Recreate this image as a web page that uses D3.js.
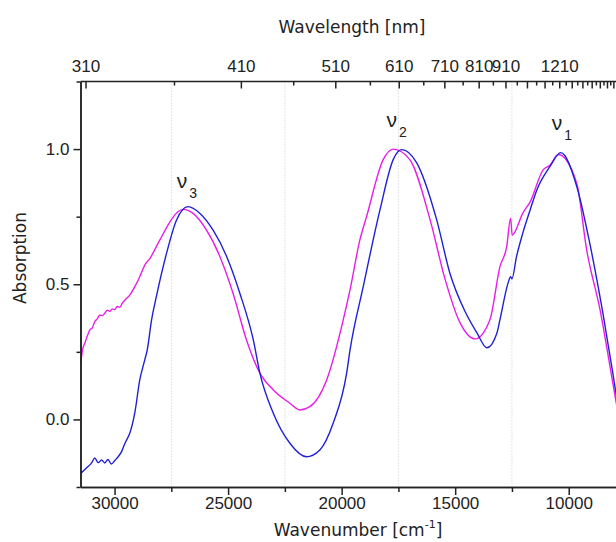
<!DOCTYPE html>
<html>
<head>
<meta charset="utf-8">
<script src="https://cdn.jsdelivr.net/npm/d3@7"></script>
<style>
  body { margin: 0; background: #fff; }
  svg { display: block; }
</style>
</head>
<body>
<div id="chart"></div>
<script>
// absorption spectra
const magentaWn = [31490, 31400, 31310, 31200, 31090, 30980, 30870, 30760, 30650, 30540, 30430, 30320, 30210, 30100, 29990, 29880, 29770, 29650, 29540, 29330, 29110, 28890, 28670, 28440, 28010, 27560, 27210, 26980, 26540, 25950, 25360, 24780, 24190, 23600, 23010, 22280, 21840, 21400, 20660, 19930, 19630, 19200, 18900, 18170, 17730, 17000, 16110, 15450, 14800, 14130, 13470, 13030, 12730, 12560, 12490, 12020, 11700, 11120, 10830, 10460, 9650, 9210, 8620, 8060, 7740];
const magentaAbs = [0.208, 0.262, 0.282, 0.309, 0.331, 0.339, 0.362, 0.372, 0.386, 0.384, 0.393, 0.404, 0.400, 0.409, 0.406, 0.418, 0.415, 0.431, 0.442, 0.460, 0.491, 0.528, 0.571, 0.596, 0.663, 0.731, 0.768, 0.777, 0.762, 0.700, 0.602, 0.466, 0.294, 0.171, 0.109, 0.060, 0.035, 0.047, 0.146, 0.368, 0.480, 0.663, 0.751, 0.961, 1.000, 0.961, 0.740, 0.520, 0.360, 0.298, 0.369, 0.565, 0.640, 0.744, 0.682, 0.763, 0.805, 0.924, 0.940, 0.980, 0.874, 0.627, 0.405, 0.135, -0.020];

const blueWn = [31490, 31240, 31010, 30870, 30720, 30575, 30430, 30290, 30140, 29990, 29840, 29690, 29540, 29470, 29330, 29110, 28890, 28670, 28560, 28370, 28160, 27710, 27270, 26760, 26240, 25660, 25060, 24480, 23890, 23600, 23010, 22280, 21545, 20960, 20375, 19780, 19630, 19050, 18310, 17730, 17360, 16700, 15820, 15230, 14570, 14040, 13610, 13160, 13030, 12670, 12560, 12500, 12300, 12020, 11700, 11400, 10830, 10350, 9640, 9070, 8490, 8060, 7740];
const blueAbs = [-0.200, -0.180, -0.161, -0.143, -0.160, -0.150, -0.161, -0.148, -0.165, -0.152, -0.138, -0.119, -0.088, -0.076, -0.051, 0.024, 0.146, 0.220, 0.257, 0.368, 0.454, 0.615, 0.738, 0.787, 0.762, 0.700, 0.602, 0.466, 0.294, 0.171, 0.023, -0.088, -0.138, -0.113, -0.014, 0.171, 0.257, 0.491, 0.776, 0.961, 0.998, 0.950, 0.740, 0.540, 0.400, 0.320, 0.265, 0.320, 0.368, 0.505, 0.528, 0.520, 0.602, 0.690, 0.775, 0.850, 0.935, 0.987, 0.860, 0.650, 0.390, 0.172, 0.000];

// axes
const bottomMajor = [30000, 25000, 20000, 15000, 10000];
const bottomMinor = [27500, 22500, 17500, 12500, 7500];
const gridWn = [27500, 22500, 17500, 12500];
const yMajor = [0, 0.5, 1.0];
const yMinor = [-0.25, 0.25, 0.75, 1.25];
const topLabels = [310, 410, 510, 610, 710, 810, 910, 1210];
const topTicks = d3.range(310, 2050, 50);

// peak annotations
const peakNames = ["3", "2", "1"];
const peakWn = [27260, 18020, 10750];
const peakAbs = [0.856, 1.083, 1.071];

const width = 616, height = 542;
const tickFont = "'Liberation Sans', Arial, sans-serif";
const titleFont = "'DejaVu Sans', Verdana, sans-serif";
const ink = "#222";

const svg = d3.select("#chart")
    .append("svg")
    .attr("width", width)
    .attr("height", height);

const x = d3.scaleLinear().domain([31500, 7500]).range([80.5, 625.5]);
const y = d3.scaleLinear().domain([-0.25, 1.25]).range([487, 81.5]);

// top axis: wavelength mapped onto the wavenumber scale
const nmToWn = nm => 8.6948e6 / nm + 3209;

svg.append("clipPath").attr("id", "plot")
    .append("rect")
    .attr("x", x.range()[0]).attr("y", y.range()[1])
    .attr("width", x.range()[1] - x.range()[0])
    .attr("height", y.range()[0] - y.range()[1]);

// dotted vertical grid
svg.append("g")
    .selectAll("line")
    .data(gridWn)
    .enter().append("line")
    .attr("x1", d => x(d)).attr("x2", d => x(d))
    .attr("y1", y(1.25)).attr("y2", y(-0.25))
    .attr("stroke", "#c8c8c8")
    .attr("stroke-width", 1)
    .attr("stroke-dasharray", "1,2");

// curves
const line = d3.line()
    .x(d => x(d[0]))
    .y(d => y(d[1]))
    .curve(d3.curveMonotoneX);

const series = [
    { wn: magentaWn, abs: magentaAbs, color: "#e81ee8" },
    { wn: blueWn, abs: blueAbs, color: "#2020d8" }
];

svg.append("g")
    .attr("clip-path", "url(#plot)")
    .selectAll("path")
    .data(series)
    .enter().append("path")
    .attr("d", s => line(s.wn.map((w, i) => [w, s.abs[i]])))
    .attr("fill", "none")
    .attr("stroke", s => s.color)
    .attr("stroke-width", 1.4)
    .attr("stroke-linejoin", "round");

// bottom axis
svg.append("g")
    .attr("transform", `translate(0,${y(-0.25)})`)
    .call(d3.axisBottom(x).tickValues(bottomMajor).tickSize(8).tickSizeOuter(0)
        .tickPadding(2).tickFormat(d3.format("d")));
svg.append("g")
    .attr("transform", `translate(0,${y(-0.25)})`)
    .call(d3.axisBottom(x).tickValues(bottomMinor).tickSize(5).tickSizeOuter(0).tickFormat(""));

// left axis
svg.append("g")
    .attr("transform", `translate(${x(31500)},0)`)
    .call(d3.axisLeft(y).tickValues(yMajor).tickSize(7).tickSizeOuter(0)
        .tickPadding(4).tickFormat(d3.format(".1f")));
svg.append("g")
    .attr("transform", `translate(${x(31500)},0)`)
    .call(d3.axisLeft(y).tickValues(yMinor).tickSize(4).tickSizeOuter(0).tickFormat(""));

svg.selectAll(".domain, .tick line")
    .attr("stroke", ink)
    .attr("stroke-width", 1.5);
svg.selectAll(".tick text")
    .attr("fill", ink)
    .attr("font-size", 17)
    .attr("font-family", tickFont);

// top axis
const yTop = y(1.25);
svg.append("line")
    .attr("x1", x.range()[0]).attr("x2", x.range()[1])
    .attr("y1", yTop).attr("y2", yTop)
    .attr("stroke", ink).attr("stroke-width", 1.5);

svg.append("g")
    .selectAll("line")
    .data(topTicks.filter(nm => x(nmToWn(nm)) <= x.range()[1]))
    .enter().append("line")
    .attr("x1", d => x(nmToWn(d))).attr("x2", d => x(nmToWn(d)))
    .attr("y1", yTop)
    .attr("y2", d => yTop + ((d - 310) % 100 === 0 ? 7 : 4))
    .attr("stroke", ink).attr("stroke-width", 1.5);

svg.append("g")
    .selectAll("text")
    .data(topLabels)
    .enter().append("text")
    .attr("x", d => x(nmToWn(d)))
    .attr("y", 72)
    .attr("text-anchor", "middle")
    .attr("font-size", 17)
    .attr("font-family", tickFont)
    .attr("fill", ink)
    .text(d => d);

// titles
svg.append("text")
    .attr("x", 352).attr("y", 33)
    .attr("text-anchor", "middle")
    .attr("font-size", 17)
    .attr("font-family", titleFont)
    .attr("fill", ink)
    .text("Wavelength [nm]");

const xt = svg.append("text")
    .attr("x", 358).attr("y", 536)
    .attr("text-anchor", "middle")
    .attr("font-size", 17)
    .attr("font-family", titleFont)
    .attr("fill", ink);
xt.append("tspan").text("Wavenumber [cm");
xt.append("tspan").attr("font-size", 11).attr("dy", -8).text("-1");
xt.append("tspan").attr("dy", 8).text("]");

svg.append("text")
    .attr("transform", "translate(26,258) rotate(-90)")
    .attr("text-anchor", "middle")
    .attr("font-size", 17)
    .attr("font-family", titleFont)
    .attr("fill", ink)
    .text("Absorption");

// ν labels
const nu = svg.append("g")
    .selectAll("text")
    .data(peakNames)
    .enter().append("text")
    .attr("x", (d, i) => x(peakWn[i]))
    .attr("y", (d, i) => y(peakAbs[i]))
    .attr("font-size", 21)
    .attr("font-family", tickFont)
    .attr("fill", ink);
nu.append("tspan").text("ν");
nu.append("tspan").attr("font-size", 14).attr("dx", 2).attr("dy", 10).text(d => d);
</script>
</body>
</html>
